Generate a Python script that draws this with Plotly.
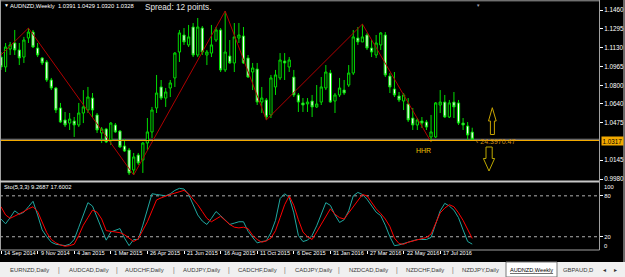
import plotly.graph_objects as go

W, H = 625, 277
def px(x): return x / W
def py(y): return 1 - y / H

# ---------------- data (weekly AUDNZD) ----------------
bar_index = list(range(104))
open_ = [1.1048,1.0961,1.1118,1.1171,1.1110,1.1048,1.1215,1.1267,1.1127,1.1040,
         1.1005,1.0847,1.0777,1.0602,1.0497,1.0470,1.0488,1.0453,1.0558,1.0584,
         1.0689,1.0541,1.0383,1.0418,1.0322,1.0453,1.0400,1.0269,1.0234,1.0059,
         1.0190,1.0146,1.0295,1.0392,1.0602,1.0786,1.0689,1.0777,1.0865,1.1092,
         1.1241,1.1154,1.1311,1.1066,1.1302,1.1066,1.1083,1.1197,1.1285,1.0935,
         1.1057,1.0996,1.1215,1.1232,1.1040,1.0917,1.0943,1.0654,1.0672,1.0541,
         1.0786,1.0865,1.1013,1.0961,1.0873,1.0716,1.0646,1.0637,1.0663,1.0611,
         1.0654,1.0777,1.0908,1.0663,1.0716,1.0759,1.0803,1.0908,1.1215,1.1180,
         1.1241,1.1127,1.1066,1.1154,1.1241,1.0882,1.0768,1.0707,1.0663,1.0637,
         1.0514,1.0453,1.0488,1.0479,1.0348,1.0348,1.0628,1.0654,1.0523,1.0654,
         1.0646,1.0470,1.0444,1.0391]
high = [1.1092,1.1171,1.1180,1.1285,1.1171,1.1224,1.1302,1.1285,1.1171,1.1048,
        1.1022,1.0865,1.0786,1.0646,1.0567,1.0558,1.0523,1.0646,1.0759,1.0786,
        1.0733,1.0558,1.0435,1.0427,1.0479,1.0470,1.0409,1.0330,1.0252,1.0208,
        1.0208,1.0304,1.0514,1.0611,1.0891,1.0847,1.0777,1.0847,1.1092,1.1285,
        1.1302,1.1329,1.1346,1.1390,1.1320,1.1110,1.1329,1.1311,1.1302,1.1451,
        1.1197,1.1346,1.1346,1.1311,1.1066,1.0996,1.0996,1.0786,1.0689,1.0891,
        1.0935,1.1083,1.1083,1.1048,1.0935,1.0733,1.0689,1.0689,1.0716,1.0803,
        1.0873,1.0978,1.0935,1.0733,1.0865,1.0847,1.0978,1.1285,1.1311,1.1337,
        1.1259,1.1197,1.1241,1.1267,1.1267,1.0908,1.0917,1.0742,1.0733,1.0689,
        1.0602,1.0514,1.0523,1.0497,1.0541,1.0654,1.0759,1.0716,1.0672,1.0742,
        1.0672,1.0514,1.0479,1.0429]
low = [1.0935,1.0917,1.1066,1.1066,1.0978,1.0996,1.1171,1.1127,1.1048,1.0978,
       1.0830,1.0759,1.0558,1.0470,1.0435,1.0409,1.0348,1.0435,1.0470,1.0558,
       1.0514,1.0383,1.0295,1.0295,1.0278,1.0383,1.0252,1.0217,1.0015,1.0015,
       1.0103,1.0033,1.0234,1.0339,1.0558,1.0672,1.0611,1.0698,1.0786,1.1005,
       1.1154,1.1136,1.1048,1.1048,1.1066,1.0978,1.1048,1.1180,1.0917,1.0917,
       1.0987,1.0917,1.1171,1.0987,1.0865,1.0759,1.0628,1.0558,1.0497,1.0514,
       1.0716,1.0847,1.0847,1.0917,1.0698,1.0567,1.0567,1.0567,1.0523,1.0602,
       1.0628,1.0759,1.0646,1.0558,1.0698,1.0716,1.0786,1.0891,1.1154,1.1180,
       1.1110,1.1048,1.1040,1.1110,1.0873,1.0733,1.0698,1.0654,1.0584,1.0479,
       1.0409,1.0409,1.0427,1.0409,1.0304,1.0339,1.0558,1.0514,1.0514,1.0514,
       1.0453,1.0409,1.0322,1.0320]
close = [1.0961,1.1136,1.1154,1.1110,1.1040,1.1197,1.1267,1.1136,1.1066,1.0996,
         1.0847,1.0777,1.0584,1.0479,1.0453,1.0505,1.0453,1.0558,1.0611,1.0698,
         1.0584,1.0409,1.0418,1.0304,1.0470,1.0392,1.0260,1.0225,1.0033,1.0173,
         1.0120,1.0295,1.0392,1.0584,1.0733,1.0689,1.0742,1.0821,1.1083,1.1259,
         1.1180,1.1224,1.1066,1.1311,1.1092,1.1092,1.1154,1.1285,1.0935,1.1092,
         1.0996,1.1224,1.1241,1.0996,1.0873,1.0952,1.0654,1.0689,1.0523,1.0865,
         1.0891,1.1022,1.0996,1.1022,1.0716,1.0654,1.0628,1.0654,1.0611,1.0637,
         1.0786,1.0917,1.0654,1.0716,1.0777,1.0733,1.0908,1.1224,1.1180,1.1224,
         1.1127,1.1092,1.1171,1.1259,1.0891,1.0786,1.0716,1.0672,1.0716,1.0497,
         1.0453,1.0497,1.0470,1.0435,1.0392,1.0646,1.0654,1.0523,1.0646,1.0611,
         1.0470,1.0453,1.0365,1.0328]

stoch_k = [46,39,48,58,53,56,64,72,52,30,20,12,9,8,7,9,16,34,52,70,
           65,49,33,15,27,30,32,18,7,16,16,37,59,83,82,81,80,83,88,91,
           90,82,67,52,43,38,47,57,51,45,38,40,42,42,28,19,11,13,14,26,
           44,76,83,78,55,22,13,15,22,36,52,70,66,52,41,45,58,80,85,82,
           75,66,56,51,37,20,7,8,10,13,15,16,16,16,19,37,58,69,65,59,
           48,30,13,9.2687]
stoch_d = [64,52,47,50,54,57,61,64,57,40,26,16,11,8,6,7,9,22,37,48,
           59,56,46,29,28,27,26,23,18,13,17,30,42,58,74,77,80,82,84,86,
           88,83,75,67,57,47,42,46,50,44,38,34,33,34,32,22,16,12,14,18,
           29,48,67,80,66,45,27,20,16,27,39,51,61,53,48,46,55,65,74,82,
           80,70,61,54,46,35,18,10,9,12,14,16,17,19,24,40,55,62,67,64,
           55,44,30,17.6002]

zigzag_index = [0, 6, 29, 49, 58, 79, 94]
zigzag_price = [1.1066, 1.1302, 1.0015, 1.1451, 1.0497, 1.1337, 1.0304]

price_ticks = [1.1460, 1.1295, 1.1130, 1.0965, 1.0800, 1.0640, 1.0475, 1.0145, 0.9980]
level_price = 1.0317
stoch_levels = [80, 20]

date_index = [0, 8, 16, 24, 32, 40, 48, 56, 64, 72, 80, 88, 96]
date_labels = ["14 Sep 2014", "9 Nov 2014", "4 Jan 2015", "1 Mar 2015", "26 Apr 2015",
               "21 Jun 2015", "16 Aug 2015", "11 Oct 2015", "6 Dec 2015", "31 Jan 2016",
               "27 Mar 2016", "22 May 2016", "17 Jul 2016"]
tabs = ["EURNZD,Daily", "AUDCAD,Daily", "AUDCHF,Daily", "AUDJPY,Daily", "CADCHF,Daily",
        "CADJPY,Daily", "NZDCAD,Daily", "NZDCHF,Daily", "NZDJPY,Daily"]
active_tab = "AUDNZD,Weekly"
header = "AUDNZD,Weekly  1.0391 1.0429 1.0320 1.0328"
sto_label = "Sto(5,3,3) 9.2687 17.6002"

# ---------------- figure ----------------
GREEN = "#00dd00"
FONT = "Liberation Sans"

fig = go.Figure()
fig.add_trace(go.Candlestick(
    x=bar_index, open=open_, high=high, low=low, close=close,
    increasing=dict(line=dict(color=GREEN, width=1), fillcolor="#000000"),
    decreasing=dict(line=dict(color=GREEN, width=1), fillcolor="#ffffff"),
    whiskerwidth=0, xaxis="x", yaxis="y", hoverinfo="skip", showlegend=False))
fig.add_trace(go.Scatter(x=zigzag_index, y=zigzag_price, mode="lines",
                         line=dict(color="#b00000", width=1), xaxis="x", yaxis="y",
                         hoverinfo="skip", showlegend=False))
fig.add_trace(go.Scatter(x=bar_index, y=stoch_k, mode="lines",
                         line=dict(color="#20a8a0", width=1), xaxis="x2", yaxis="y2",
                         hoverinfo="skip", showlegend=False))
fig.add_trace(go.Scatter(x=bar_index, y=stoch_d, mode="lines",
                         line=dict(color="#ff0000", width=1), xaxis="x2", yaxis="y2",
                         hoverinfo="skip", showlegend=False))

xr = [-1 / 4.575, 598 / 4.575]
price_top = 1.1460 + 8 / 1141.9
price_bot = 1.1460 - 171 / 1141.9

shapes = []
shapes.append(dict(type="line", xref="paper", yref="y", x0=0, x1=px(599), y0=close[-1], y1=close[-1],
                   line=dict(color="#8a8a8a", width=1), layer="below"))
shapes.append(dict(type="line", xref="paper", yref="y", x0=0, x1=px(599), y0=level_price, y1=level_price,
                   line=dict(color="#f2a900", width=1.2), layer="above"))
for lv in stoch_levels:
    shapes.append(dict(type="line", xref="paper", yref="y2", x0=0, x1=px(599), y0=lv, y1=lv,
                       line=dict(color="#b0b0b0", width=1, dash="dot"), layer="below"))
frame = "#a0a0a0"
shapes += [
    dict(type="line", xref="paper", yref="paper", x0=px(0.5), x1=px(0.5), y0=py(250), y1=py(0), line=dict(color=frame, width=1)),
    dict(type="line", xref="paper", yref="paper", x0=0, x1=px(599.5), y0=py(0.8), y1=py(0.8), line=dict(color=frame, width=1)),
    dict(type="line", xref="paper", yref="paper", x0=0, x1=px(600), y0=py(181.5), y1=py(181.5), line=dict(color="#c8c8c8", width=2)),
    dict(type="line", xref="paper", yref="paper", x0=0, x1=px(599.5), y0=py(250), y1=py(250), line=dict(color=frame, width=1)),
    dict(type="line", xref="paper", yref="paper", x0=px(599.5), x1=px(599.5), y0=py(250), y1=py(0), line=dict(color=frame, width=1)),
    dict(type="line", xref="paper", yref="paper", x0=px(624), x1=px(624), y0=py(262), y1=py(0), line=dict(color="#d0d0d0", width=1)),
]
shapes.append(dict(type="rect", xref="paper", yref="paper", x0=0, x1=1, y0=0, y1=py(262),
                   fillcolor="#f0f0f0", line=dict(width=0)))
shapes.append(dict(type="rect", xref="paper", yref="paper", x0=px(506), x1=px(557), y0=0, y1=py(262),
                   fillcolor="#ffffff", line=dict(color="#7a7a7a", width=1)))

def path(points):
    return "M " + " L ".join(f"{px(a):.5f},{py(b):.5f}" for a, b in points) + " Z"

shapes.append(dict(type="path", xref="paper", yref="paper",
                   path=path([(492.3, 107.7), (496.2, 121), (494.4, 121), (494.4, 134.5),
                              (490.4, 134.5), (490.4, 121), (488.5, 121)]),
                   line=dict(color="#c9a400", width=1)))
shapes.append(dict(type="path", xref="paper", yref="paper",
                   path=path([(486, 147), (492.2, 147), (492.2, 158.5), (494.6, 158.5),
                              (489, 171), (483.4, 158.5), (486, 158.5)]),
                   line=dict(color="#bda800", width=1)))

ann = []
def txt(x, y, s, size, color, anchor="left", family=FONT, **kw):
    ann.append(dict(x=px(x), y=py(y), xref="paper", yref="paper", text=s, showarrow=False,
                    xanchor=anchor, yanchor="middle", font=dict(size=size, color=color, family=family), **kw))

txt(1.5, 5.5, "▼", 5, "#ffffff")
txt(8, 5.8, header, 5.8, "#ffffff")
txt(143, 7, "Spread: 12 points.", 8.2, "#e6e6e6")
ann.append(dict(x=px(478), y=py(1.2), xref="paper", yref="paper", text="▼", showarrow=False,
                xanchor="center", yanchor="top", font=dict(size=4.5, color="#9a9aa8", family=FONT)))
txt(2, 187, sto_label, 5.8, "#ffffff")
txt(414, 150, "HHR", 7, "#f0c000")
txt(474, 141.5, "‹ 24:3970:47", 7, "#c8901a")
txt(602, 186.5, "100", 5.8, "#ffffff")
txt(602, 246, "0", 5.8, "#ffffff")
ann.append(dict(x=px(601), y=level_price, xref="paper", yref="y", text="1.0317", showarrow=False,
                xanchor="left", yanchor="middle", bgcolor="#f2a900", borderpad=0.5,
                font=dict(size=6.3, color="#000000", family=FONT)))
for i, lab in zip(date_index, date_labels):
    ann.append(dict(x=i, y=py(252.5), xref="x2", yref="paper", text=lab, showarrow=False,
                    xanchor="left", yanchor="middle", xshift=1,
                    font=dict(size=5.6, color="#ffffff", family=FONT)))
tab_x = [8, 67, 123, 181, 236, 293, 347, 404, 460]
sep_x = [58.5, 117, 174, 229, 285, 339, 397, 453]
for x, lab in zip(tab_x, tabs):
    txt(x, 269.5, lab, 5.9, "#3a3a3a")
for x in sep_x:
    txt(x, 269.5, "|", 6.5, "#707070", anchor="center")
txt(531.5, 269.5, "<u>" + active_tab + "</u>", 5.6, "#000000", anchor="center")
txt(561, 269.5, "GBPAUD,D", 5.9, "#3a3a3a")
txt(604, 269.5, "◂", 6, "#303030", anchor="center")
txt(615, 269.5, "▸", 6, "#303030", anchor="center")

fig.update_layout(
    width=W, height=H, margin=dict(l=0, r=0, t=0, b=0),
    paper_bgcolor="#000000", plot_bgcolor="#000000",
    showlegend=False, hovermode=False,
    xaxis=dict(domain=[0, px(599)], range=xr, showgrid=False, zeroline=False,
               showticklabels=False, rangeslider=dict(visible=False), anchor="y"),
    yaxis=dict(domain=[py(181), py(2)], range=[price_bot, price_top], side="right",
               showgrid=False, zeroline=False, tickvals=price_ticks,
               ticktext=[f"{v:.4f}" for v in price_ticks], ticks="outside", ticklen=3,
               tickcolor="#ffffff", tickfont=dict(size=6.3, color="#ffffff", family=FONT),
               anchor="x"),
    xaxis2=dict(domain=[0, px(599)], range=xr, showgrid=False, zeroline=False,
                showticklabels=False, tickvals=date_index, ticks="outside", ticklen=3,
                tickcolor="#ffffff", anchor="y2"),
    yaxis2=dict(domain=[py(250.4), py(182.2)], range=[0, 100], side="right",
                showgrid=False, zeroline=False, tickvals=stoch_levels,
                ticktext=[str(v) for v in stoch_levels], ticks="outside", ticklen=3,
                tickcolor="#ffffff", tickfont=dict(size=5.8, color="#ffffff", family=FONT),
                anchor="x2"),
    shapes=shapes, annotations=ann,
)

fig.write_html("out.html")
